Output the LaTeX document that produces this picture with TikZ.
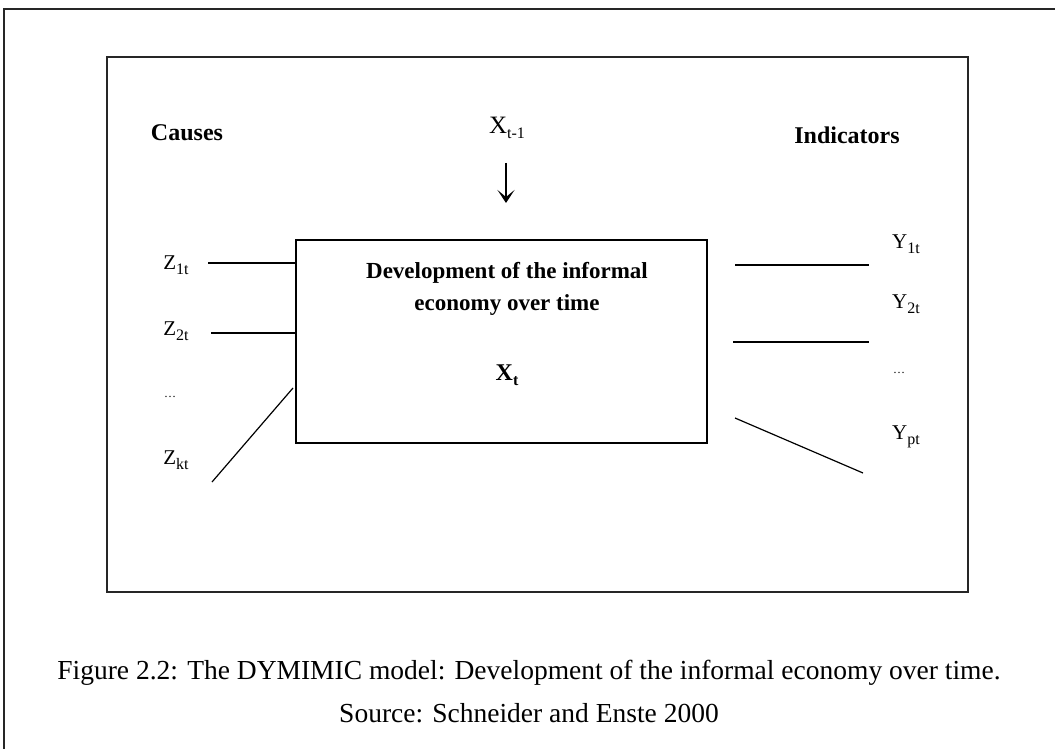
\documentclass[tikz,border=0pt]{standalone}
\usepackage{fontspec}
\setmainfont{Liberation Serif}
\usepackage{tikz}
\usetikzlibrary{arrows,arrows.meta,positioning,calc}

\newcommand{\lowidx}[1]{\raisebox{-0.5ex}{\fontsize{16}{16}\selectfont #1}}

\tikzset{
  frame/.style={line width=1.6pt, black!85},
  var/.style={font=\fontsize{21}{22}\selectfont, inner sep=0pt},
  head/.style={font=\fontsize{24}{26}\selectfont\bfseries, inner sep=0pt},
  link/.style={line width=1.2pt}
}

\begin{document}
\begin{tikzpicture}[x=1pt,y=-1pt]
      \useasboundingbox (0,0) rectangle (1055,749);
      %% outer and inner frames
      \draw[frame] (1055,9) -- (4,9) -- (4,749);
      \draw[frame] (107,57) rectangle (968,592);

      \node (causes) at (187,133) [head] {Causes};
      \node (indic) at (847,135) [head] {Indicators};
      \node (xprev) at (507,128) [var, font=\fontsize{25}{26}\selectfont] {X\lowidx{t-1}};

      %% the latent variable
      \node (dev) at (501.5,341.5) [draw, line width=1.2pt, minimum width=411pt, minimum height=203pt] {};
      \node (devtxt) at (507,289) [align=center, inner sep=0pt, font=\fontsize{23}{32}\selectfont\bfseries] {Development of the informal\\economy over time};
      \node (xt) at (507,375) [inner sep=0pt, font=\fontsize{24}{24}\selectfont\bfseries] {X\lowidx{t}};

      \coordinate (top) at (506,163);
      \coordinate (tip) at (506,203);
      \draw[-{Stealth[length=13pt,width=17pt,inset=7pt]}, link] (top) -- (tip);

      %% causes
      \node (z1) at (176,265) [var] {Z\lowidx{1t}};
      \node (z2) at (176,331) [var] {Z\lowidx{2t}};
      \node (zd) at (170,397) [var, font=\fontsize{12}{12}\selectfont] {\dots};
      \node (zk) at (176,460) [var] {Z\lowidx{kt}};

      \coordinate (z1e) at (208,263);
      \coordinate (z2e) at (211,333);
      \coordinate (zke) at (212,482);
      \coordinate (zkb) at (293,388);
      \draw[link] (z1e) -- (dev.west |- z1e);
      \draw[link] (z2e) -- (dev.west |- z2e);
      \draw[link] (zke) -- (zkb);

      %% indicators
      \node (y1) at (906,244) [var] {Y\lowidx{1t}};
      \node (y2) at (906,304) [var] {Y\lowidx{2t}};
      \node (yd) at (899,373) [var, font=\fontsize{12}{12}\selectfont] {\dots};
      \node (yp) at (906,437) [var] {Y\lowidx{pt}};

      \coordinate (y1a) at (735,265);
      \coordinate (y1b) at (869,265);
      \coordinate (y2a) at (733,342);
      \coordinate (y2b) at (869,342);
      \coordinate (ypa) at (735,418);
      \coordinate (ypb) at (863,473);
      \draw[link] (y1a) -- (y1b);
      \draw[link] (y2a) -- (y2b);
      \draw[link] (ypa) -- (ypb);

      %% caption
      \node (cap) at (529,673) [inner sep=0pt, font=\fontsize{27.5}{30}\selectfont] {Figure 2.2: The DYMIMIC model: Development of the informal economy over time.};
      \node (src) at (529,713) [inner sep=0pt, font=\fontsize{27.5}{30}\selectfont] {Source: Schneider and Enste 2000};

    \end{tikzpicture}
\end{document}
